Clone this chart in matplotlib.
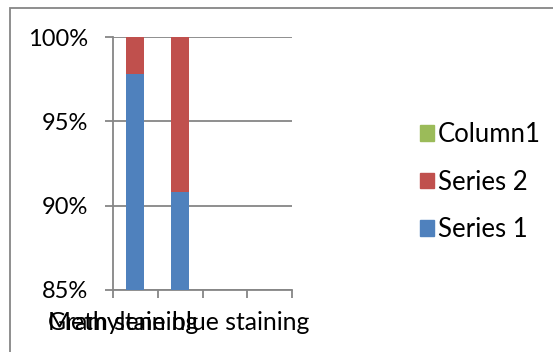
import matplotlib.pyplot as plt
from matplotlib.patches import Rectangle, Patch

# data
categories = ['Gram staining', 'Methylene blue staining', '', '']
series1 = [97.8, 90.8, 0, 0]
series2 = [2.2, 9.2, 0, 0]
column1 = [0, 0, 0, 0]
y_ticks = [85, 90, 95, 100]

blue = '#4F81BD'
red = '#C0504D'
green = '#9BBB59'
grid_c = '#868686'

plt.rcParams['font.family'] = ['Lato', 'DejaVu Sans']
plt.rcParams['font.size'] = 17

fig = plt.figure(figsize=(5.53, 3.52), dpi=100)
ax = fig.add_axes([113 / 553, 1 - 290 / 352, (292 - 113) / 553, (290 - 37) / 352])

x = list(range(len(categories)))
ax.bar(x, series1, width=0.4, color=blue, zorder=3)
ax.bar(x, series2, width=0.4, bottom=series1, color=red, zorder=3)
ax.bar(x, column1, width=0.4,
       bottom=[a + b for a, b in zip(series1, series2)], color=green, zorder=3)

ax.set_ylim(85, 100)
ax.set_xlim(-0.5, len(categories) - 0.5)
ax.set_yticks(y_ticks)
ax.set_yticklabels([f'{v}%' for v in y_ticks], fontsize=17)
ax.set_xticks([i - 0.5 for i in range(len(categories) + 1)])
ax.set_xticklabels([])
ax.grid(axis='y', color=grid_c, lw=1.3, zorder=0)
for s in ['top', 'right']:
    ax.spines[s].set_visible(False)
for s in ['left', 'bottom']:
    ax.spines[s].set_color(grid_c)
    ax.spines[s].set_linewidth(1.3)
ax.tick_params(axis='both', color=grid_c, width=1.3, length=6)
ax.tick_params(axis='y', pad=12)

# category labels overlap, both left-aligned like the original
for c in categories:
    if c:
        fig.text(48 / 553, 1 - 323 / 352, c, ha='left', va='center',
                 fontsize=17.8)

# legend (reverse order)
handles = [Patch(color=green), Patch(color=red), Patch(color=blue)]
fig.legend(handles, ['Column1', 'Series 2', 'Series 1'], loc='center left',
           bbox_to_anchor=(420 / 553, 1 - 182 / 352), frameon=False,
           fontsize=18.5, borderpad=0, borderaxespad=0,
           handlelength=0.55, handleheight=0.55, handletextpad=0.15,
           labelspacing=0.88)

# outer chart border
fig.add_artist(Rectangle((10 / 553, -0.1), 1.2, 1 - 8 / 352 + 0.1,
                         transform=fig.transFigure, fill=False,
                         ec=grid_c, lw=1.3))

fig.savefig('out.png', dpi=100)
